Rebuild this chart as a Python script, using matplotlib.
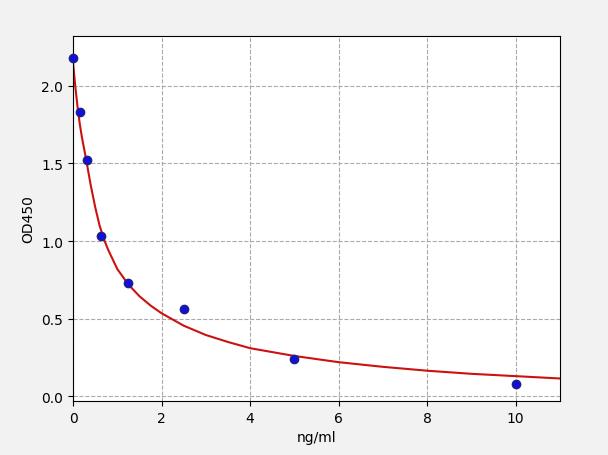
import matplotlib.pyplot as plt

conc = [0, 0.156, 0.3125, 0.625, 1.25, 2.5, 5, 10]
od = [2.18, 1.83, 1.52, 1.03, 0.73, 0.56, 0.24, 0.08]

# fitted curve
curve_x = [0, 0.05, 0.1, 0.15, 0.2, 0.3, 0.4, 0.5, 0.6, 0.7, 0.8, 1.0, 1.25, 1.5, 1.75, 2.0,
           2.5, 3.0, 3.5, 4.0, 5.0, 6.0, 7.0, 8.0, 9.0, 10.0, 11.0]
curve_y = [2.15, 2.00, 1.87, 1.76, 1.67, 1.52, 1.36, 1.22, 1.10, 1.01, 0.94, 0.82, 0.72, 0.645, 0.585, 0.535,
           0.455, 0.395, 0.35, 0.31, 0.26, 0.22, 0.19, 0.165, 0.145, 0.13, 0.115]

fig = plt.figure(figsize=(6.08, 4.56), dpi=100, facecolor='#f2f2f2')
ax = fig.add_axes([73/608, 54/456, 487/608, 365/456])
ax.plot(curve_x, curve_y, color='#cc1111', lw=1.5, zorder=2)
ax.scatter(conc, od, s=36, color='#1010dd', edgecolor='#202080', zorder=3, clip_on=False)
ax.set_xlim(0, 11)
ax.set_ylim(-0.03, 2.32)
ax.set_xticks([0, 2, 4, 6, 8, 10])
ax.set_yticks([0.0, 0.5, 1.0, 1.5, 2.0])
ax.grid(True, linestyle='--', color='#aaaaaa', lw=0.8)
ax.set_xlabel('ng/ml')
ax.set_ylabel('OD450')
fig.savefig('out.png')
